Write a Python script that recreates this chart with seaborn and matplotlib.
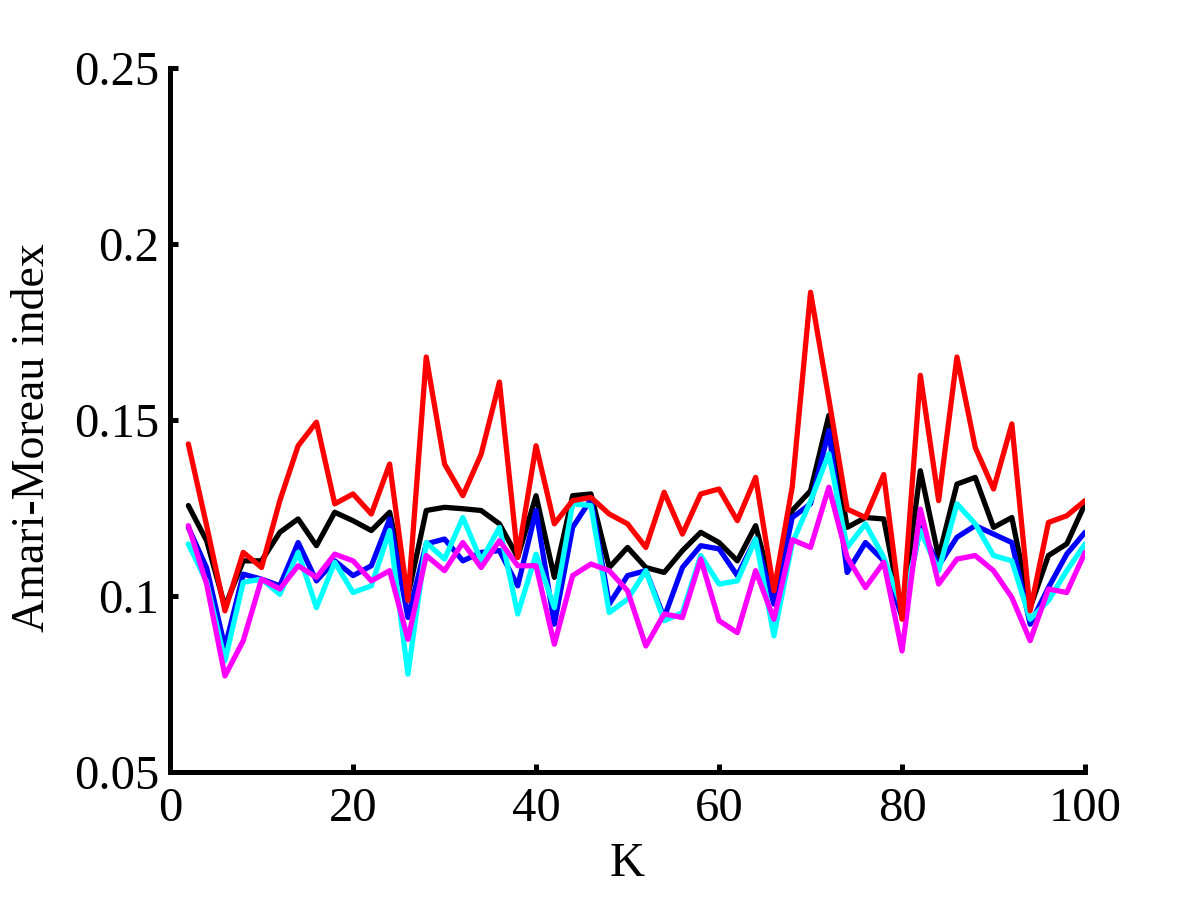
import numpy as np
import pandas as pd
import matplotlib
matplotlib.use("Agg")
import matplotlib.pyplot as plt
import seaborn as sns

K = list(range(2, 101, 2))

black = [0.1257, 0.1157, 0.0970, 0.1100, 0.1100, 0.1181, 0.1219, 0.1143, 0.1238, 0.1214,
         0.1186, 0.1238, 0.1000, 0.1243, 0.1252, 0.1248, 0.1243, 0.1205, 0.1110, 0.1285,
         0.1053, 0.1285, 0.1290, 0.1081, 0.1138, 0.1081, 0.1067, 0.1129, 0.1181, 0.1152,
         0.1100, 0.1200, 0.1000, 0.1243, 0.1299, 0.1513, 0.1195, 0.1223, 0.1219, 0.0950,
         0.1356, 0.1110, 0.1318, 0.1337, 0.1195, 0.1223, 0.0967, 0.1115, 0.1148, 0.1262]

blue = [0.1195, 0.1080, 0.0854, 0.1062, 0.1048, 0.1029, 0.1152, 0.1043, 0.1100, 0.1058,
        0.1086, 0.1219, 0.0939, 0.1148, 0.1162, 0.1100, 0.1124, 0.1129, 0.1029, 0.1243,
        0.0920, 0.1195, 0.1275, 0.0977, 0.1058, 0.1072, 0.0939, 0.1081, 0.1143, 0.1134,
        0.1058, 0.1162, 0.0977, 0.1223, 0.1262, 0.1470, 0.1067, 0.1152, 0.1100, 0.0939,
        0.1195, 0.1086, 0.1167, 0.1200, 0.1176, 0.1152, 0.0920, 0.1024, 0.1119, 0.1181]

cyan = [0.1148, 0.1040, 0.0816, 0.1039, 0.1048, 0.1005, 0.1124, 0.0967, 0.1096, 0.1010,
        0.1029, 0.1186, 0.0778, 0.1152, 0.1105, 0.1223, 0.1100, 0.1195, 0.0949, 0.1119,
        0.0967, 0.1262, 0.1257, 0.0953, 0.0991, 0.1072, 0.0930, 0.0953, 0.1115, 0.1034,
        0.1043, 0.1162, 0.0887, 0.1150, 0.1270, 0.1404, 0.1138, 0.1205, 0.1110, 0.0967,
        0.1186, 0.1072, 0.1262, 0.1205, 0.1115, 0.1100, 0.0934, 0.0987, 0.1072, 0.1148]

magenta = [0.1200, 0.1034, 0.0773, 0.0873, 0.1048, 0.1020, 0.1086, 0.1053, 0.1119, 0.1100,
           0.1043, 0.1072, 0.0877, 0.1115, 0.1072, 0.1152, 0.1081, 0.1157, 0.1086, 0.1086,
           0.0863, 0.1058, 0.1091, 0.1072, 0.1015, 0.0858, 0.0949, 0.0939, 0.1105, 0.0930,
           0.0896, 0.1072, 0.0934, 0.1160, 0.1138, 0.1309, 0.1110, 0.1024, 0.1096, 0.0844,
           0.1247, 0.1034, 0.1105, 0.1115, 0.1072, 0.0996, 0.0873, 0.1020, 0.1010, 0.1124]

red = [0.1432, 0.1200, 0.0958, 0.1124, 0.1081, 0.1271, 0.1427, 0.1494, 0.1262, 0.1290,
       0.1233, 0.1375, 0.0987, 0.1679, 0.1375, 0.1285, 0.1403, 0.1608, 0.1110, 0.1427,
       0.1205, 0.1271, 0.1280, 0.1233, 0.1205, 0.1138, 0.1295, 0.1176, 0.1290, 0.1304,
       0.1214, 0.1337, 0.1015, 0.1310, 0.1863, 0.1560, 0.1247, 0.1223, 0.1345, 0.0934,
       0.1627, 0.1271, 0.1679, 0.1422, 0.1304, 0.1489, 0.0958, 0.1209, 0.1228, 0.1271]

series_names = ["black", "blue", "cyan", "magenta", "red"]
series_values = [black, blue, cyan, magenta, red]
colors = {"black": "#000000", "blue": "#0000ff", "cyan": "#00ffff",
          "magenta": "#ff00ff", "red": "#ff0000"}

df = pd.concat([pd.DataFrame({"K": K, "index": v, "series": n})
                for n, v in zip(series_names, series_values)], ignore_index=True)

sns.set_theme(style="ticks")
plt.rcParams["font.family"] = ["Liberation Serif", "DejaVu Serif"]
plt.rcParams["text.color"] = "black"
plt.rcParams["axes.labelcolor"] = "black"
plt.rcParams["xtick.color"] = "black"
plt.rcParams["ytick.color"] = "black"

fig = plt.figure(figsize=(12, 9), dpi=100)
ax = fig.add_axes([0.1417, 0.1422, 0.7625, 0.7822])

sns.lineplot(data=df, x="K", y="index", hue="series", hue_order=series_names,
             palette=colors, linewidth=3.8, legend=False, ax=ax, sort=False)

ax.set_xlim(0, 100)
ax.set_ylim(0.05, 0.25)
ax.set_xticks([0, 20, 40, 60, 80, 100])
ax.set_xticklabels(["0", "20", "40", "60", "80", "100"])
ax.set_yticks([0.05, 0.1, 0.15, 0.2, 0.25])
ax.set_yticklabels(["0.05", "0.1", "0.15", "0.2", "0.25"])
ax.set_xlabel("K", fontsize=35, labelpad=8, color="black")
ax.set_ylabel("Amari-Moreau index", fontsize=33, labelpad=14, color="black")
ax.yaxis.label.set_y(0.475)
ax.tick_params(axis="both", direction="in", length=6, width=3.6, labelsize=35,
               colors="black")
ax.tick_params(axis="x", pad=11)
ax.tick_params(axis="y", pad=8)
for s in ["top", "right"]:
    ax.spines[s].set_visible(False)
for s in ["left", "bottom"]:
    ax.spines[s].set_linewidth(3.6)
    ax.spines[s].set_color("black")

fig.savefig("out.png", dpi=100, facecolor="white")
